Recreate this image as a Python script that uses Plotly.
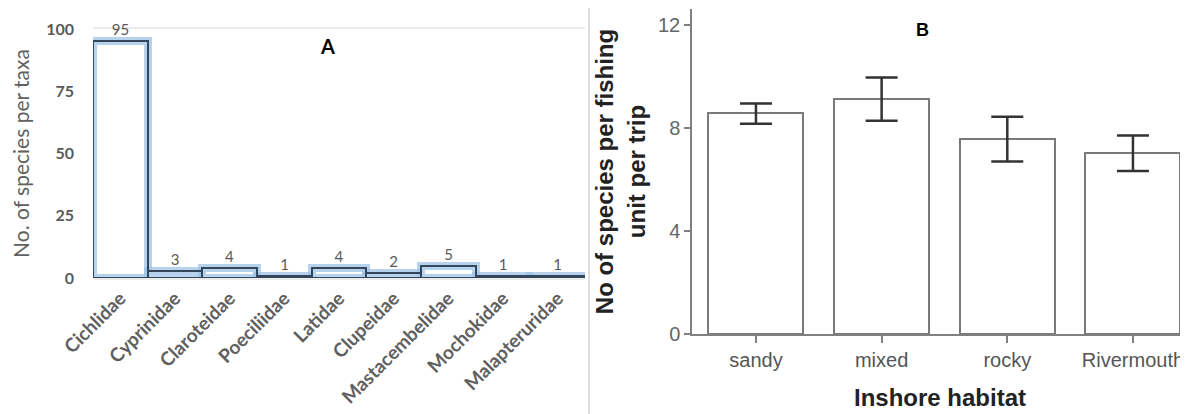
import plotly.graph_objects as go

# Panel A data
taxa = ["Cichlidae", "Cyprinidae", "Claroteidae", "Poeciliidae", "Latidae",
        "Clupeidae", "Mastacembelidae", "Mochokidae", "Malapteruridae"]
species_per_taxa = [95, 3, 4, 1, 4, 2, 5, 1, 1]
a_ticks = [0, 25, 50, 75, 100]

# Panel B data
habitats = ["sandy", "mixed", "rocky", "Rivermouth"]
species_mean = [8.57, 9.11, 7.56, 7.02]
err_plus = [0.38, 0.85, 0.88, 0.69]
err_minus = [0.41, 0.83, 0.86, 0.69]
b_ticks = [0, 4, 8, 12]

# page has an 8px body margin, so the figure is 8px smaller and coordinates shift by 8
W, H = 1180, 406
fig = go.Figure()

# Panel A: glow layer + outline layer
fig.add_trace(go.Bar(x=taxa, y=species_per_taxa, xaxis="x", yaxis="y",
                     marker=dict(color="white", line=dict(color="rgba(157,195,230,0.75)", width=8)),
                     width=1.0, showlegend=False, hoverinfo="skip"))
fig.add_trace(go.Bar(x=taxa, y=species_per_taxa, xaxis="x", yaxis="y",
                     marker=dict(color="rgba(0,0,0,0)", line=dict(color="#34465c", width=2)),
                     width=1.0, showlegend=False,
                     text=[str(v) for v in species_per_taxa], textposition="outside",
                     cliponaxis=False,
                     textfont=dict(family="Lato", size=15, color="#595959")))

# Panel B
fig.add_trace(go.Bar(x=habitats, y=species_mean, xaxis="x2", yaxis="y2",
                     marker=dict(color="white", line=dict(color="#7a7a7a", width=2)),
                     width=0.756, showlegend=False,
                     error_y=dict(type="data", array=err_plus, arrayminus=err_minus,
                                  color="#333333", thickness=2.5, width=16)))

fig.update_layout(
    width=W, height=H,
    margin=dict(l=0, r=0, t=0, b=0),
    paper_bgcolor="white", plot_bgcolor="rgba(0,0,0,0)",
    barmode="overlay", bargap=0,
    xaxis=dict(domain=[85 / W, 577 / W], anchor="y", range=[-0.5, 8.5], automargin=False,
               showline=True, mirror=True, linecolor="#ececec", linewidth=1.5,
               layer="below traces", ticks="", showgrid=False,
               tickangle=-45, tickfont=dict(family="Lato", size=19, color="#606060", weight="bold")),
    yaxis=dict(domain=[(H - 270) / H, (H - 21) / H], anchor="x", range=[0, 100], automargin=False,
               tickvals=a_ticks, showgrid=False, zeroline=False, showline=False,
               ticks="", ticklabelstandoff=18,
               tickfont=dict(family="Lato", size=16, color="#595959", weight="bold"),
               title=dict(text="No. of species per taxa", standoff=14,
                          font=dict(family="Lato", size=21, color="#606060"))),
    xaxis2=dict(domain=[684 / W, 1.0], anchor="y2", range=[-0.509, 3.438], automargin=False,
                showline=True, linecolor="#808080", linewidth=1.5,
                ticks="outside", ticklen=7, tickcolor="#808080", tickwidth=1.5,
                showgrid=False, zeroline=False,
                tickfont=dict(family="Liberation Sans", size=20, color="#555555"),
                title=dict(text="Inshore habitat", standoff=19,
                           font=dict(family="Liberation Sans", size=24, color="#222222", weight="bold"))),
    yaxis2=dict(domain=[(H - 326) / H, (H - 1) / H], anchor="x2", range=[0, 12.62], automargin=False,
                tickvals=b_ticks, showline=True, linecolor="#808080", linewidth=1.5,
                ticks="outside", ticklen=6, tickcolor="#808080", tickwidth=1.5,
                showgrid=False, zeroline=False,
                tickfont=dict(family="Liberation Sans", size=20, color="#666666"),
                title=dict(text="No of species per fishing<br>unit per trip", standoff=6,
                           font=dict(family="Liberation Sans", size=24, color="#222222", weight="bold"))),
    annotations=[
        dict(text="A", x=319 / W, y=(H - 38) / H, xref="paper", yref="paper",
             xanchor="center", yanchor="middle",
             showarrow=False, font=dict(family="Lato", size=20, color="black", weight="bold")),
        dict(text="B", x=914 / W, y=(H - 22) / H, xref="paper", yref="paper",
             xanchor="center", yanchor="middle",
             showarrow=False, font=dict(family="Liberation Sans", size=18, color="black", weight="bold")),
    ],
    shapes=[
        dict(type="line", xref="paper", yref="paper", x0=581 / W, x1=581 / W,
             y0=0, y1=1, line=dict(color="#dddddd", width=2)),
    ],
)

fig.write_html("out.html")
